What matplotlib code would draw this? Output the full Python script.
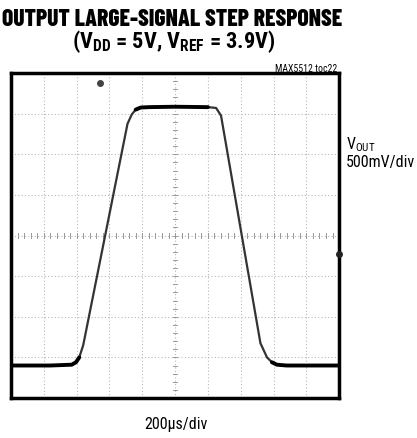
import matplotlib.pyplot as plt

NARROW = ['Roboto Condensed', 'DejaVu Sans']
HEAVY = ['Barlow Condensed', 'Roboto Condensed', 'DejaVu Sans']

plt.rcParams['mathtext.fontset'] = 'custom'
plt.rcParams['mathtext.rm'] = 'Roboto Condensed'
plt.rcParams['mathtext.bf'] = 'Roboto Condensed:bold'

# scope trace in divisions (x: 0-10, y: 0-8)
t_div = [0.0, 1.2, 1.85, 1.98, 2.08, 2.2, 3.55, 3.68, 3.8, 3.95, 4.2,
         5.0, 6.0, 6.25, 6.4, 7.6, 7.8, 7.95, 8.1, 8.4, 9.2, 10.0]
v_div = [0.80, 0.80, 0.82, 0.88, 1.0, 1.3, 6.75, 6.98, 7.10, 7.15, 7.16,
         7.17, 7.16, 7.14, 6.95, 1.35, 1.0, 0.88, 0.82, 0.80, 0.80, 0.80]

n_xdiv = 10
n_ydiv = 8

title = 'OUTPUT LARGE-SIGNAL STEP RESPONSE'
subtitle = r'(V$_{\mathbf{DD}}$ = 5V, V$_{\mathbf{REF}}$ = 3.9V)'
tag = 'MAX5512 toc22'
ylabel = [r'V$_{\rm OUT}$', '500mV/div']
xlabel = '200\u00b5s/div'

fig = plt.figure(figsize=(4.17, 4.38), dpi=100)
ax = fig.add_axes([0.0264, 0.0913, 0.787, 0.742])

# grid
for i in range(1, n_xdiv):
    ax.axvline(i, color='#b8b8b8', lw=0.8, ls=(0, (1, 2)), zorder=1)
for j in range(1, n_ydiv):
    ax.axhline(j, color='#b8b8b8', lw=0.8, ls=(0, (1, 2)), zorder=1)
# minor ticks on centre axes
for k in range(n_xdiv * 5 + 1):
    ax.plot([k / 5, k / 5], [n_ydiv / 2 - 0.06, n_ydiv / 2 + 0.06], color='#999999', lw=0.7, zorder=1)
for k in range(n_ydiv * 5 + 1):
    ax.plot([n_xdiv / 2 - 0.06, n_xdiv / 2 + 0.06], [k / 5, k / 5], color='#999999', lw=0.7, zorder=1)

# trace: thin on the edges, heavy on the flat parts
ax.plot(t_div, v_div, color='#333333', lw=1.6, zorder=3, solid_capstyle='round')
ax.plot(t_div[:5], v_div[:5], color='black', lw=2.8, zorder=4, solid_capstyle='round')
ax.plot(t_div[8:13], v_div[8:13], color='black', lw=2.8, zorder=4, solid_capstyle='round')
ax.plot(t_div[-5:], v_div[-5:], color='black', lw=2.8, zorder=4, solid_capstyle='round')

# trigger and level markers
ax.plot([2.7], [7.75], 'o', color='#444444', ms=4, zorder=5, clip_on=False)
ax.plot([10.0], [3.55], 'o', color='#222222', ms=4, zorder=5, clip_on=False)

ax.set_xlim(0, n_xdiv)
ax.set_ylim(0, n_ydiv)
ax.set_xticks([])
ax.set_yticks([])
for s in ax.spines.values():
    s.set_linewidth(2.5)

fig.text(0.413, 0.955, title, ha='center', va='center', family=HEAVY,
         fontweight='heavy', fontsize=17)
fig.text(0.417, 0.905, subtitle, ha='center', va='center', family=NARROW,
         fontweight='bold', fontsize=16)
fig.text(337 / 417, 1 - 68.5 / 438, tag, ha='right', va='center', family=NARROW,
         fontsize=7)
fig.text(346 / 417, 1 - 145 / 438, ylabel[0], ha='left', va='center', family=NARROW,
         fontsize=11.5)
fig.text(346 / 417, 1 - 163 / 438, ylabel[1], ha='left', va='center', family=NARROW,
         fontsize=11.5)
fig.text(176 / 417, 1 - 424 / 438, xlabel, ha='center', va='center', family=NARROW,
         fontsize=11.5)

fig.savefig('out.png', dpi=100)
